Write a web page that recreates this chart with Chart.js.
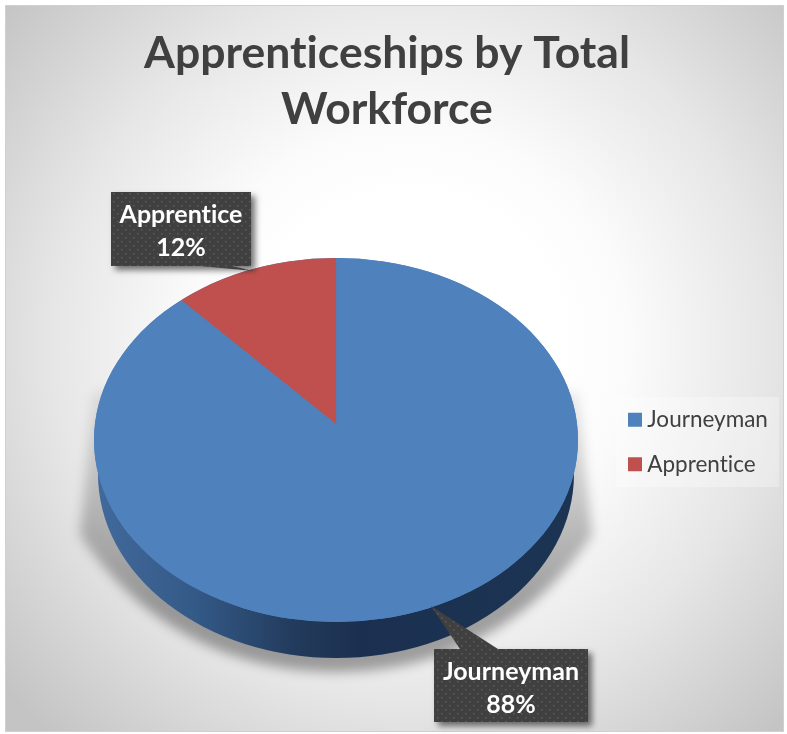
<!DOCTYPE html>
<html>
<head>
<meta charset="utf-8">
<title>Apprenticeships by Total Workforce</title>
<script src="https://cdn.jsdelivr.net/npm/chart.js@4"></script>
<style>
  html, body { margin: 0; padding: 0; background: #fff; }
  canvas { display: block; }
</style>
</head>
<body>
<canvas id="chart" width="787" height="734"></canvas>
<script>
const titleLines = ['Apprenticeships by Total', 'Workforce'];
const categories = ['Journeyman', 'Apprentice'];
const shareValues = [88, 12];
const sliceColors = ['#4f81bd', '#c0504d'];

const FONT = 'Lato, Carlito, sans-serif';
const TEXT_COLOR = '#404040';

// top face of the pie: tilted disc, the wedge tip sits above its middle
const FACE = { x: 336, y: 440, rx: 242, ry: 182 };
const SIDE = { x: 336, y: 474, rx: 238, ry: 184 };
const TILT = FACE.ry / FACE.rx;

// callouts, tip is where the pointer touches the slice
const callouts = [
  { index: 0, box: [434, 649, 154, 73], foot: [460, 498], tip: [431, 606] },
  { index: 1, box: [111, 192, 140, 74], foot: [200, 232], tip: [254, 271] }
];

function dotPattern(ctx) {
  const c = document.createElement('canvas');
  c.width = 8;
  c.height = 8;
  const p = c.getContext('2d');
  p.fillStyle = '#404040';
  p.fillRect(0, 0, 8, 8);
  p.fillStyle = '#5c5c5c';
  p.fillRect(1, 1, 1.5, 1.5);
  p.fillRect(5, 5, 1.5, 1.5);
  return ctx.createPattern(c, 'repeat');
}

const backdropPlugin = {
  id: 'backdrop',
  beforeDraw(chart) {
    const ctx = chart.ctx;
    // no ti/ft ligatures, the original font has none here
    ctx.letterSpacing = '0.01px';
    ctx.save();
    ctx.fillStyle = '#ffffff';
    ctx.fillRect(0, 0, chart.width, chart.height);
    const g = ctx.createRadialGradient(410, 345, 150, 410, 345, 530);
    g.addColorStop(0, '#ffffff');
    g.addColorStop(0.18, '#fbfbfb');
    g.addColorStop(0.55, '#e6e6e6');
    g.addColorStop(1, '#c4c4c4');
    ctx.fillStyle = g;
    ctx.fillRect(6, 6, 777, 725);
    ctx.strokeStyle = '#d0d0d0';
    ctx.strokeRect(5.5, 5.5, 778, 726);

    // legend panel
    ctx.fillStyle = 'rgba(255,255,255,0.3)';
    ctx.fillRect(616, 397, 163, 90);
    ctx.restore();
  },
  beforeDatasetsDraw(chart) {
    const ctx = chart.ctx;
    const cx = (chart.chartArea.left + chart.chartArea.right) / 2;
    const cy = (chart.chartArea.top + chart.chartArea.bottom) / 2;

    // ground shadow
    ctx.save();
    ctx.filter = 'blur(6px)';
    const sh = ctx.createLinearGradient(0, 390, 0, 600);
    sh.addColorStop(0, 'rgba(0,0,0,0.08)');
    sh.addColorStop(0.5, 'rgba(0,0,0,0.2)');
    sh.addColorStop(1, 'rgba(0,0,0,0.34)');
    ctx.fillStyle = sh;
    ctx.beginPath();
    ctx.moveTo(94, 392);
    ctx.lineTo(80, 535);
    ctx.bezierCurveTo(150, 640, 250, 672, 336, 672);
    ctx.bezierCurveTo(422, 672, 522, 640, 592, 535);
    ctx.lineTo(578, 392);
    ctx.closePath();
    ctx.fill();
    ctx.restore();

    // side wall
    ctx.save();
    const side = ctx.createLinearGradient(SIDE.x - SIDE.rx, 0, SIDE.x + SIDE.rx, 0);
    side.addColorStop(0, '#41699b');
    side.addColorStop(0.2, '#345a88');
    side.addColorStop(0.42, '#223a5b');
    side.addColorStop(0.55, '#1b3050');
    side.addColorStop(1, '#1c3453');
    ctx.fillStyle = side;
    ctx.beginPath();
    ctx.ellipse(SIDE.x, SIDE.y, SIDE.rx, SIDE.ry, 0, 0, Math.PI * 2);
    ctx.fill();

    // base colour under the slices so their seam stays clean
    ctx.fillStyle = sliceColors[0];
    ctx.beginPath();
    ctx.ellipse(FACE.x, FACE.y, FACE.rx, FACE.ry, 0, 0, Math.PI * 2);
    ctx.fill();
    ctx.restore();

    // squash the pie and keep it inside the face, restored in afterDatasetsDraw
    ctx.save();
    ctx.beginPath();
    ctx.ellipse(FACE.x, FACE.y, FACE.rx, FACE.ry, 0, 0, Math.PI * 2);
    ctx.clip();
    ctx.translate(cx, cy);
    ctx.scale(1, TILT);
    ctx.translate(-cx, -cy);
  },
  afterDatasetsDraw(chart) {
    const ctx = chart.ctx;
    ctx.restore();

    const total = shareValues.reduce((a, b) => a + b, 0);
    const fill = dotPattern(ctx);
    callouts.forEach(c => {
      const [x, y, w, h] = c.box;
      ctx.save();
      ctx.shadowColor = 'rgba(0,0,0,0.55)';
      ctx.shadowBlur = 6;
      ctx.shadowOffsetX = 4;
      ctx.shadowOffsetY = 4;
      ctx.fillStyle = fill;
      ctx.beginPath();
      ctx.rect(x, y, w, h);
      ctx.fill();
      ctx.restore();

      ctx.save();
      ctx.fillStyle = fill;
      ctx.beginPath();
      const edge = c.tip[1] < y ? y : y + h;
      ctx.moveTo(c.foot[0], edge);
      ctx.lineTo(c.tip[0], c.tip[1]);
      ctx.lineTo(c.foot[1], edge);
      ctx.closePath();
      ctx.fill();

      ctx.fillStyle = '#ffffff';
      ctx.font = 'bold 25px ' + FONT;
      ctx.textAlign = 'center';
      ctx.textBaseline = 'middle';
      const pct = Math.round(shareValues[c.index] / total * 100) + '%';
      ctx.fillText(categories[c.index], x + w / 2, y + 23);
      ctx.fillText(pct, x + w / 2, y + 56);
      ctx.restore();
    });
  },
  afterLayout(chart) {
    // title sits centred on the frame, legend lower than the box layout puts it
    chart.titleBlock.left = 0;
    chart.titleBlock.right = 774;
    chart.legend.left = 612;
    chart.legend.top += 109;
    chart.legend.bottom += 109;
  }
};

new Chart(document.getElementById('chart'), {
  type: 'pie',
  plugins: [backdropPlugin],
  data: {
    labels: categories,
    datasets: [{
      data: shareValues,
      backgroundColor: sliceColors,
      borderWidth: 0,
      radius: 280,
      clip: false
    }]
  },
  options: {
    responsive: false,
    animation: false,
    events: [],
    layout: { padding: { left: 51, right: 0, top: 0, bottom: 68 } },
    plugins: {
      tooltip: { enabled: false },
      title: {
        display: true,
        text: titleLines,
        color: TEXT_COLOR,
        font: { family: FONT, size: 44.5, weight: 'bold', lineHeight: 56 / 44.5 },
        padding: { top: 26, bottom: 44 }
      },
      legend: {
        display: true,
        position: 'right',
        labels: {
          color: TEXT_COLOR,
          font: { family: FONT, size: 22.5 },
          usePointStyle: true,
          pointStyle: 'rect',
          boxWidth: 2,
          boxHeight: 14,
          padding: 22
        }
      }
    }
  }
});
</script>
</body>
</html>
